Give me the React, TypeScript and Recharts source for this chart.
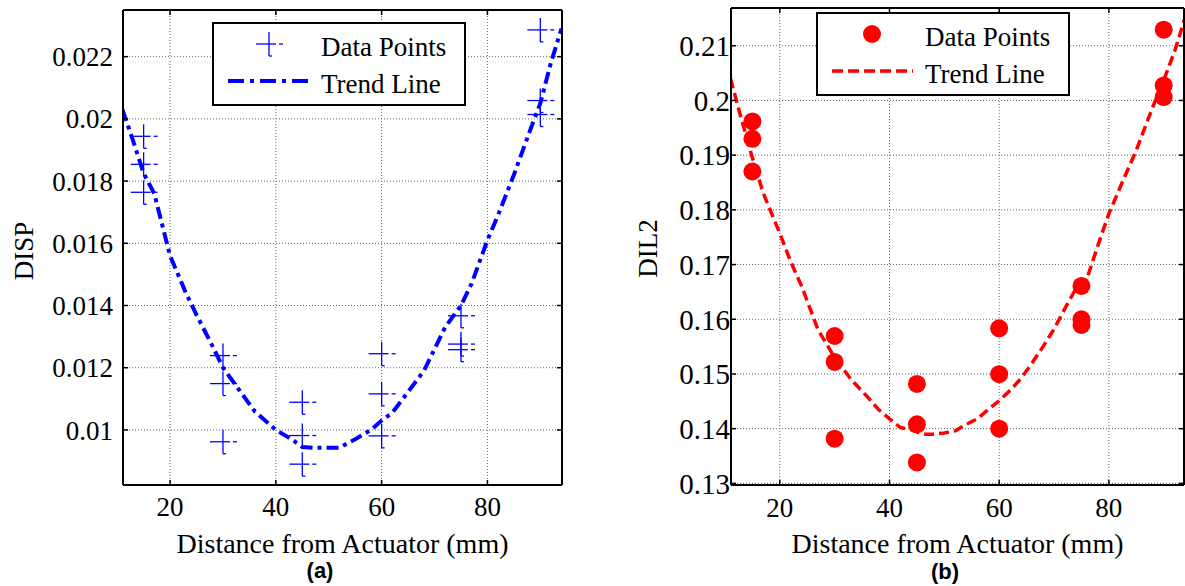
import React from 'react';
import { ComposedChart, Scatter, Line, XAxis, YAxis, CartesianGrid, Label, Legend } from 'recharts';

// ---------- data ----------
const xTicks = [20, 40, 60, 80];
const dispTicks = [0.01, 0.012, 0.014, 0.016, 0.018, 0.02, 0.022];
const dil2Ticks = [0.13, 0.14, 0.15, 0.16, 0.17, 0.18, 0.19, 0.2, 0.21];

const pointX = [15, 15, 15, 30, 30, 30, 45, 45, 45, 60, 60, 60, 75, 75, 75, 90, 90, 90];
const dispY = [0.01944, 0.01854, 0.01764, 0.01239, 0.01149, 0.00962, 0.01089, 0.00982, 0.0089,
  0.01245, 0.01116, 0.00981, 0.01367, 0.01276, 0.01258, 0.02286, 0.02059, 0.02014];
const dil2Y = [0.19616, 0.19299, 0.18701, 0.15694, 0.15219, 0.13817, 0.14817, 0.14079, 0.13383,
  0.15835, 0.14995, 0.14, 0.16609, 0.16, 0.15896, 0.21293, 0.20274, 0.20062];

const dispTrendX = [11, 13, 15, 17, 20, 23, 25, 28, 30, 33, 36, 40, 43, 45, 47, 50, 52, 55, 58, 60, 62, 64, 66, 68, 70, 72, 75, 77, 80, 82, 85, 88, 90, 92, 94];
const dispTrendY = [0.0203, 0.0193, 0.01825, 0.0176, 0.0156, 0.0144, 0.0137, 0.0127, 0.012, 0.0113, 0.0106, 0.01, 0.0097, 0.00945, 0.00943, 0.00943, 0.00943, 0.0097, 0.01, 0.0103, 0.01055, 0.011, 0.01145, 0.0119, 0.0126, 0.0133, 0.014, 0.0147, 0.0161, 0.0169, 0.0182, 0.0196, 0.0205, 0.0218, 0.0229];

const dil2TrendX = [11, 13, 15, 17, 20, 22, 24, 27, 30, 33, 36, 38, 40, 42, 44, 46, 48, 50, 52, 54, 56, 58, 60, 62, 64, 66, 68, 70, 72, 74, 76, 78, 80, 82, 85, 88, 90, 92, 94];
const dil2TrendY = [0.204, 0.1966, 0.1895, 0.183, 0.1757, 0.1705, 0.166, 0.158, 0.153, 0.149, 0.1458, 0.1435, 0.1418, 0.1402, 0.1398, 0.139, 0.139, 0.1392, 0.1396, 0.1408, 0.1418, 0.1435, 0.1451, 0.147, 0.1492, 0.152, 0.155, 0.1582, 0.162, 0.1656, 0.1674, 0.1735, 0.1793, 0.184, 0.1909, 0.1988, 0.2037, 0.209, 0.2155];

const zip = (xs: number[], ys: number[]) => xs.map((x, i) => ({ x, y: ys[i] }));
const dispPoints = zip(pointX, dispY);
const dil2Points = zip(pointX, dil2Y);
const dispTrend = zip(dispTrendX, dispTrendY);
const dil2Trend = zip(dil2TrendX, dil2TrendY);

// ---------- styles ----------
const SERIF = 'Liberation Serif';
const BLUE = '#0000ff';
const RED = '#ff0000';
const EmptyTick = () => <g />;

const makeTick = (side: 'x' | 'y', fontSize: number) => (props: any) => {
  const { x, y, payload } = props;
  const label = String(payload.value);
  return (
    <g transform={`translate(${x},${y})`}>
      <text x={0} y={0} dy={side === 'x' ? '0.71em' : '0.355em'} textAnchor={side === 'x' ? 'middle' : 'end'}
        fontFamily={SERIF} fontSize={fontSize} style={{ fontFamily: SERIF, fontSize }} fill="#000">
        {label}
      </text>
    </g>
  );
};

const PlusMarker = (props: any) => {
  const { cx, cy } = props;
  if (cx == null || cy == null) return <g />;
  return (
    <g stroke={BLUE} strokeWidth={1.3} fill="none">
      <line x1={cx - 13} y1={cy} x2={cx + 7} y2={cy} />
      <line x1={cx + 10} y1={cy} x2={cx + 14} y2={cy} />
      <line x1={cx} y1={cy - 12} x2={cx} y2={cy + 12} />
      <line x1={cx} y1={cy + 12} x2={cx + 3} y2={cy + 12} />
    </g>
  );
};

const DotMarker = (props: any) => {
  const { cx, cy } = props;
  if (cx == null || cy == null) return <g />;
  return <circle cx={cx} cy={cy} r={9} fill={RED} />;
};

const LegendBox = ({ kind }: { kind: 'a' | 'b' }) => (
  <svg width={254} height={84} style={{ display: 'block' }}>
    <rect x={1} y={1} width={252} height={82} fill="#fff" stroke="#000" strokeWidth={2} />
    {kind === 'a' ? (
      <>
        <PlusMarker cx={57} cy={22} />
        <line x1={16} y1={59} x2={99} y2={59} stroke={BLUE} strokeWidth={4} strokeDasharray="16 6 4 6" />
      </>
    ) : (
      <>
        <circle cx={56} cy={22} r={9} fill={RED} />
        <line x1={16} y1={59} x2={97} y2={59} stroke={RED} strokeWidth={3.5} strokeDasharray="11 5" />
      </>
    )}
    <text x={109} y={34} style={{ fontFamily: SERIF, fontSize: 27 }} fill="#000">Data Points</text>
    <text x={109} y={71} style={{ fontFamily: SERIF, fontSize: 27 }} fill="#000">Trend Line</text>
  </svg>
);

const axisLine = { stroke: '#000', strokeWidth: 2 };
const tickLine = { stroke: '#000', strokeWidth: 1.5 };

function Panel(props: {
  width: number; left: number; margin: any; yWidth: number; rWidth: number; xDomain: [number, number];
  yDomain: [number, number]; yTicks: number[]; tickFont: number; yTickFont: number; yTickMargin: number; xTickMargin: number;
  points: any[]; trend: any[]; yTitle: string; yTitleX: number; yTitleY: number; kind: 'a' | 'b';
  legendLeft: number; legendTop: number;
}) {
  const p = props;
  const XTick = makeTick('x', p.tickFont);
  const YTick = makeTick('y', p.yTickFont);
  return (
    <div style={{ position: 'absolute', left: p.left, top: 0 }}>
      <ComposedChart width={p.width} height={586} margin={p.margin}>
        <CartesianGrid xAxisId="b" yAxisId="l" stroke="#666" strokeDasharray="1 2" strokeWidth={1} />
        <XAxis xAxisId="b" orientation="bottom" type="number" dataKey="x" domain={p.xDomain} allowDataOverflow
          ticks={xTicks} height={70} tickSize={-5} tickMargin={p.xTickMargin} axisLine={axisLine} tickLine={tickLine}
          tick={XTick} interval={0}>
          <Label value="Distance from Actuator (mm)" position="insideBottom" offset={2}
            style={{ fontFamily: SERIF, fontSize: 28, fill: '#000' }} />
        </XAxis>
        <XAxis xAxisId="t" orientation="top" type="number" dataKey="x" domain={p.xDomain} allowDataOverflow
          ticks={xTicks} height={1} tickSize={-5} axisLine={axisLine} tickLine={tickLine} tick={<EmptyTick />} interval={0} />
        <YAxis yAxisId="l" orientation="left" type="number" domain={p.yDomain} allowDataOverflow ticks={p.yTicks}
          width={p.yWidth} tickSize={-5} tickMargin={p.yTickMargin} axisLine={axisLine} tickLine={tickLine}
          tick={YTick} interval={0}>
          <Label content={() => (
            <text x={p.yTitleX} y={p.yTitleY} transform={`rotate(-90, ${p.yTitleX}, ${p.yTitleY})`}
              textAnchor="middle" style={{ fontFamily: SERIF, fontSize: 27 }} fill="#000">{p.yTitle}</text>
          )} />
        </YAxis>
        <YAxis yAxisId="r" orientation="right" type="number" domain={p.yDomain} allowDataOverflow ticks={p.yTicks}
          width={p.rWidth} tickSize={-5} axisLine={axisLine} tickLine={tickLine} tick={<EmptyTick />} interval={0} />
        <Line xAxisId="b" yAxisId="l" data={p.trend} dataKey="y" type="linear" dot={false} activeDot={false}
          stroke={p.kind === 'a' ? BLUE : RED} strokeWidth={p.kind === 'a' ? 4 : 3.5}
          strokeDasharray={p.kind === 'a' ? '12 5 4 5' : '10 5'} isAnimationActive={false} legendType="none" />
        <Scatter xAxisId="b" yAxisId="l" data={p.points} dataKey="y"
          shape={p.kind === 'a' ? <PlusMarker /> : <DotMarker />} isAnimationActive={false} legendType="none" />
        <Legend layout="horizontal" verticalAlign="middle" align="center"
          wrapperStyle={{ left: p.legendLeft, top: p.legendTop, width: 254, height: 84 }}
          content={() => <LegendBox kind={p.kind} />} />
      </ComposedChart>
    </div>
  );
}

const subLabel = {
  position: 'absolute' as const, transform: 'translate(-50%, 0)', lineHeight: 1,
  fontFamily: "'Liberation Sans', Arial, sans-serif", fontWeight: 'bold' as const, fontSize: 22, color: '#000',
};

export default function App() {
  return (
    <div style={{ position: 'fixed', left: 0, top: 0, width: 1185, height: 586, background: '#fff', overflow: 'hidden' }}>
      <Panel width={600} left={0} margin={{ top: 9, right: 33, bottom: 31, left: 0 }} yWidth={123} rWidth={5}
        xDomain={[11.1, 94.1]} yDomain={[0.00823, 0.0235]} yTicks={dispTicks} tickFont={27} yTickFont={27}
        yTickMargin={15} xTickMargin={17} points={dispPoints} trend={dispTrend}
        yTitle="DISP" yTitleX={33} yTitleY={251} kind="a" legendLeft={212} legendTop={22} />
      <Panel width={585} left={600} margin={{ top: 7, right: 0, bottom: 31, left: 0 }} yWidth={131} rWidth={1}
        xDomain={[11.1, 93.7]} yDomain={[0.1297, 0.2169]} yTicks={dil2Ticks} tickFont={27} yTickFont={29}
        yTickMargin={6} xTickMargin={18} points={dil2Points} trend={dil2Trend}
        yTitle="DIL2" yTitleX={56.5} yTitleY={248.5} kind="b" legendLeft={216} legendTop={12} />
      <div style={{ ...subLabel, left: 320, top: 560 }}>(a)</div>
      <div style={{ ...subLabel, left: 945, top: 561 }}>(b)</div>
    </div>
  );
}
